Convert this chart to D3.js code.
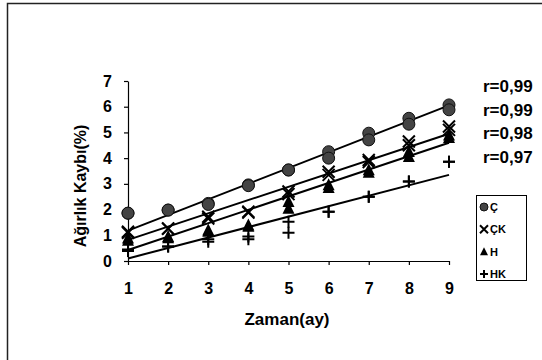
<!DOCTYPE html>
<html>
<head>
<meta charset="utf-8">
<script src="https://cdn.jsdelivr.net/npm/d3@7"></script>
<style>
  body { margin: 0; background: #fff; }
  text { font-family: "Liberation Sans", Arial, sans-serif; font-weight: bold; }
</style>
</head>
<body>
<svg id="chart" width="542" height="360"></svg>
<script>
// months on the x axis
const months = [1, 2, 3, 4, 5, 6, 7, 8, 9];
const yTicks = [0, 1, 2, 3, 4, 5, 6, 7];

// two replicate readings per month for each group
const cA  = [1.86, 1.98, 2.24, 2.96, 3.54, 4.25, 4.97, 5.55, 6.07];
const cB  = [1.86, 1.98, 2.20, 2.93, 3.54, 4.00, 4.71, 5.32, 5.88];
const ckA = [1.14, 1.27, 1.72, 1.92, 2.70, 3.47, 3.93, 4.65, 5.23];
const ckB = [1.10, 1.25, 1.65, 1.88, 2.60, 3.35, 3.85, 4.50, 5.10];
const hA  = [0.89, 0.95, 1.20, 1.40, 2.31, 2.96, 3.54, 4.25, 4.90];
const hB  = [0.80, 0.90, 1.15, 1.35, 2.05, 2.85, 3.45, 4.06, 4.80];
const hkA = [0.39, 0.56, 0.75, 0.95, 1.53, 1.92, 2.50, 3.09, 3.86];
const hkB = [0.45, 0.56, 0.85, 0.85, 1.10, 1.92, 2.50, 3.09, 3.86];

// fitted lines, value at month 1 and month 9
const fitStart = [1.18, 0.82, 0.43, 0.10];
const fitEnd   = [6.05, 4.95, 4.60, 3.35];

const groupNames = ["Ç", "ÇK", "H", "HK"];
const rLabels = ["r=0,99", "r=0,99", "r=0,98", "r=0,97"];
const groupShapes = ["circle", "cross", "triangle", "plus"];

const series = [[cA, cB], [ckA, ckB], [hA, hB], [hkA, hkB]];

let svg = d3.select("#chart");

// outer frame (right/bottom edges run off the picture)
svg.append("rect")
  .attr("x", 7.5).attr("y", 3.5)
  .attr("width", 600).attr("height", 420)
  .style("fill", "none")
  .style("stroke", "#222")
  .style("stroke-width", 1.5);

let x = d3.scaleLinear().domain([1, 9]).range([128, 449]);
let y = d3.scaleLinear().domain([0, 7]).range([261, 81]);

// axes
let gx = svg.append("g")
  .attr("transform", "translate(0,261)")
  .call(d3.axisBottom(x).tickValues(months).tickFormat(d3.format("d")).tickSize(4).tickPadding(18).tickSizeOuter(0));
gx.selectAll("text").style("font-size", "16px").style("font-family", "Liberation Sans, Arial, sans-serif").style("font-weight", "bold");

let gy = svg.append("g")
  .attr("transform", "translate(128,0)")
  .call(d3.axisLeft(y).tickValues(yTicks).tickFormat(d3.format("d")).tickSize(4).tickPadding(12).tickSizeOuter(0));
gy.selectAll("text").style("font-size", "16px").style("font-family", "Liberation Sans, Arial, sans-serif").style("font-weight", "bold");

svg.selectAll(".domain, .tick line").style("stroke", "#000").style("stroke-width", 1.2);

// axis titles
svg.append("text")
  .attr("transform", "translate(86,186) rotate(-90)")
  .attr("text-anchor", "middle")
  .style("font-size", "16px")
  .text("Ağırlık Kaybı(%)");

svg.append("text")
  .attr("x", 287).attr("y", 325)
  .attr("text-anchor", "middle")
  .style("font-size", "17px")
  .text("Zaman(ay)");

// marker drawing
function drawMarker(g, shape, cx, cy, s) {
  if (shape === "circle") {
    g.append("circle").attr("cx", cx).attr("cy", cy).attr("r", s)
      .style("fill", "#444").style("stroke", "#111").style("stroke-width", 1);
  } else if (shape === "cross") {
    g.append("path")
      .attr("d", `M${cx - s},${cy - s}L${cx + s},${cy + s}M${cx - s},${cy + s}L${cx + s},${cy - s}`)
      .style("stroke", "#000").style("stroke-width", 2).style("fill", "none");
  } else if (shape === "triangle") {
    g.append("path")
      .attr("d", `M${cx},${cy - s * 1.1}L${cx + s},${cy + s * 0.9}L${cx - s},${cy + s * 0.9}Z`)
      .style("fill", "#000");
  } else {
    g.append("path")
      .attr("d", `M${cx - s},${cy}L${cx + s},${cy}M${cx},${cy - s}L${cx},${cy + s}`)
      .style("stroke", "#000").style("stroke-width", 2).style("fill", "none");
  }
}

// regression lines
svg.selectAll(".fit")
  .data(groupNames)
  .enter()
  .append("line")
  .attr("class", "fit")
  .attr("x1", x(1))
  .attr("y1", (d, i) => y(fitStart[i]))
  .attr("x2", x(9))
  .attr("y2", (d, i) => y(fitEnd[i]))
  .style("stroke", "#000")
  .style("stroke-width", 2);

// points, drawn back to front so circles sit on top
let pts = svg.append("g");
for (let i = series.length - 1; i >= 0; i--) {
  series[i].forEach(function (rep) {
    rep.forEach(function (v, j) {
      drawMarker(pts, groupShapes[i], x(months[j]), y(v), 6);
    });
  });
}

// r values
svg.selectAll(".rlab")
  .data(rLabels)
  .enter()
  .append("text")
  .attr("class", "rlab")
  .attr("x", 483)
  .attr("y", (d, i) => 92 + i * 23.7)
  .style("font-size", "17px")
  .text((d) => d);

// legend
svg.append("rect")
  .attr("x", 476.5).attr("y", 195.5)
  .attr("width", 50).attr("height", 85)
  .style("fill", "#fff").style("stroke", "#000").style("stroke-width", 1);

let leg = svg.append("g");
groupNames.forEach(function (name, i) {
  let ly = 207 + i * 22.3;
  drawMarker(leg, groupShapes[i], 484, ly, 4);
  leg.append("text")
    .attr("x", 490).attr("y", ly + 4)
    .style("font-size", "11px")
    .text(name);
});
</script>
</body>
</html>
